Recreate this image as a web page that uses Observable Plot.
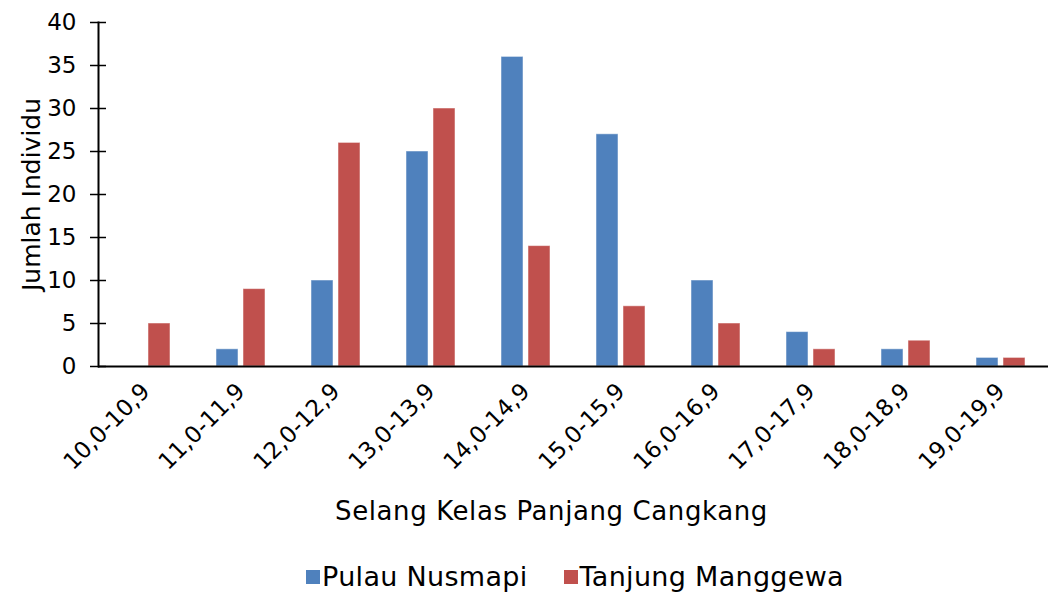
<!DOCTYPE html>
<html>
<head>
<meta charset="utf-8">
<script src="https://cdn.jsdelivr.net/npm/d3@7"></script>
<script src="https://cdn.jsdelivr.net/npm/@observablehq/plot@0.6"></script>
<style>
  body { margin: 0; background: #fff; font-family: "DejaVu Sans", sans-serif; }
  #legend { display: flex; justify-content: center; align-items: center; gap: 36px; margin-top: 16px; padding-left: 98px; font-size: 27px; letter-spacing: 0.3px; color: #000; }
  .item { display: flex; align-items: center; gap: 2px; }
  .sw { width: 14px; height: 14px; display: inline-block; }
</style>
</head>
<body>
<div id="chart"></div>
<div id="legend"></div>
<script>
const categories = ["10,0-10,9","11,0-11,9","12,0-12,9","13,0-13,9","14,0-14,9","15,0-15,9","16,0-16,9","17,0-17,9","18,0-18,9","19,0-19,9"];
const series = ["Pulau Nusmapi", "Tanjung Manggewa"];
const pulauNusmapi = [0, 2, 10, 25, 36, 27, 10, 4, 2, 1];
const tanjungManggewa = [5, 9, 26, 30, 14, 7, 5, 2, 3, 1];
const colors = ["#4F81BD", "#C0504D"];
const yTicks = [0, 5, 10, 15, 20, 25, 30, 35, 40];

const data = [];
categories.forEach((c, i) => {
  data.push({cat: c, series: series[0], value: pulauNusmapi[i]});
  data.push({cat: c, series: series[1], value: tanjungManggewa[i]});
});

const chart = Plot.plot({
  width: 1052,
  height: 545,
  marginLeft: 97,
  marginRight: 4,
  marginTop: 22,
  marginBottom: 179,
  style: {fontFamily: "DejaVu Sans", fontSize: "21px", color: "#000", background: "#fff"},
  fx: {domain: categories, padding: 0, label: null},
  x: {domain: series, paddingInner: 0.185, paddingOuter: 0.85, axis: null},
  y: {domain: [0, 40], label: null},
  color: {domain: series, range: colors},
  marks: [
    Plot.barY(data.filter(d => d.value > 0), {fx: "cat", x: "series", y: "value", fill: "series", stroke: "#ffffff", strokeOpacity: 0.5, strokeWidth: 1}),
    Plot.ruleY([0], {stroke: "#000", strokeWidth: 2}),
    Plot.axisY({ticks: yTicks, tickSize: 8, tickPadding: 14, tickFormat: d => d, fontSize: 23, strokeWidth: 1.5,
      label: "Jumlah Individu", labelAnchor: "center", labelOffset: 76, labelArrow: "none"}),
    Plot.axisY({ticks: yTicks, tickSize: -8, tickFormat: () => "", strokeWidth: 1.5, label: null}),
    Plot.frame({anchor: "left", facetAnchor: "left", stroke: "#000", strokeWidth: 2}),
    Plot.axisFx({anchor: "bottom", tickRotate: -45, tickSize: 0, tickPadding: 21, fontSize: 23,
      label: "Selang Kelas Panjang Cangkang", labelAnchor: "center", labelOffset: 153, labelArrow: "none"})
  ]
});
d3.select(chart).selectAll("g[aria-label='y-axis label'] text").style("font-size", "25px");
d3.select(chart).selectAll("g[aria-label='fx-axis label'] text")
  .style("font-size", "26px").style("letter-spacing", "0.6px").attr("dx", -22);
document.getElementById("chart").appendChild(chart);

const legend = document.getElementById("legend");
series.forEach((s, i) => {
  const item = document.createElement("div");
  item.className = "item";
  const sw = document.createElement("span");
  sw.className = "sw";
  sw.style.background = colors[i];
  const t = document.createElement("span");
  t.textContent = s;
  item.appendChild(sw);
  item.appendChild(t);
  legend.appendChild(item);
});
</script>
</body>
</html>
